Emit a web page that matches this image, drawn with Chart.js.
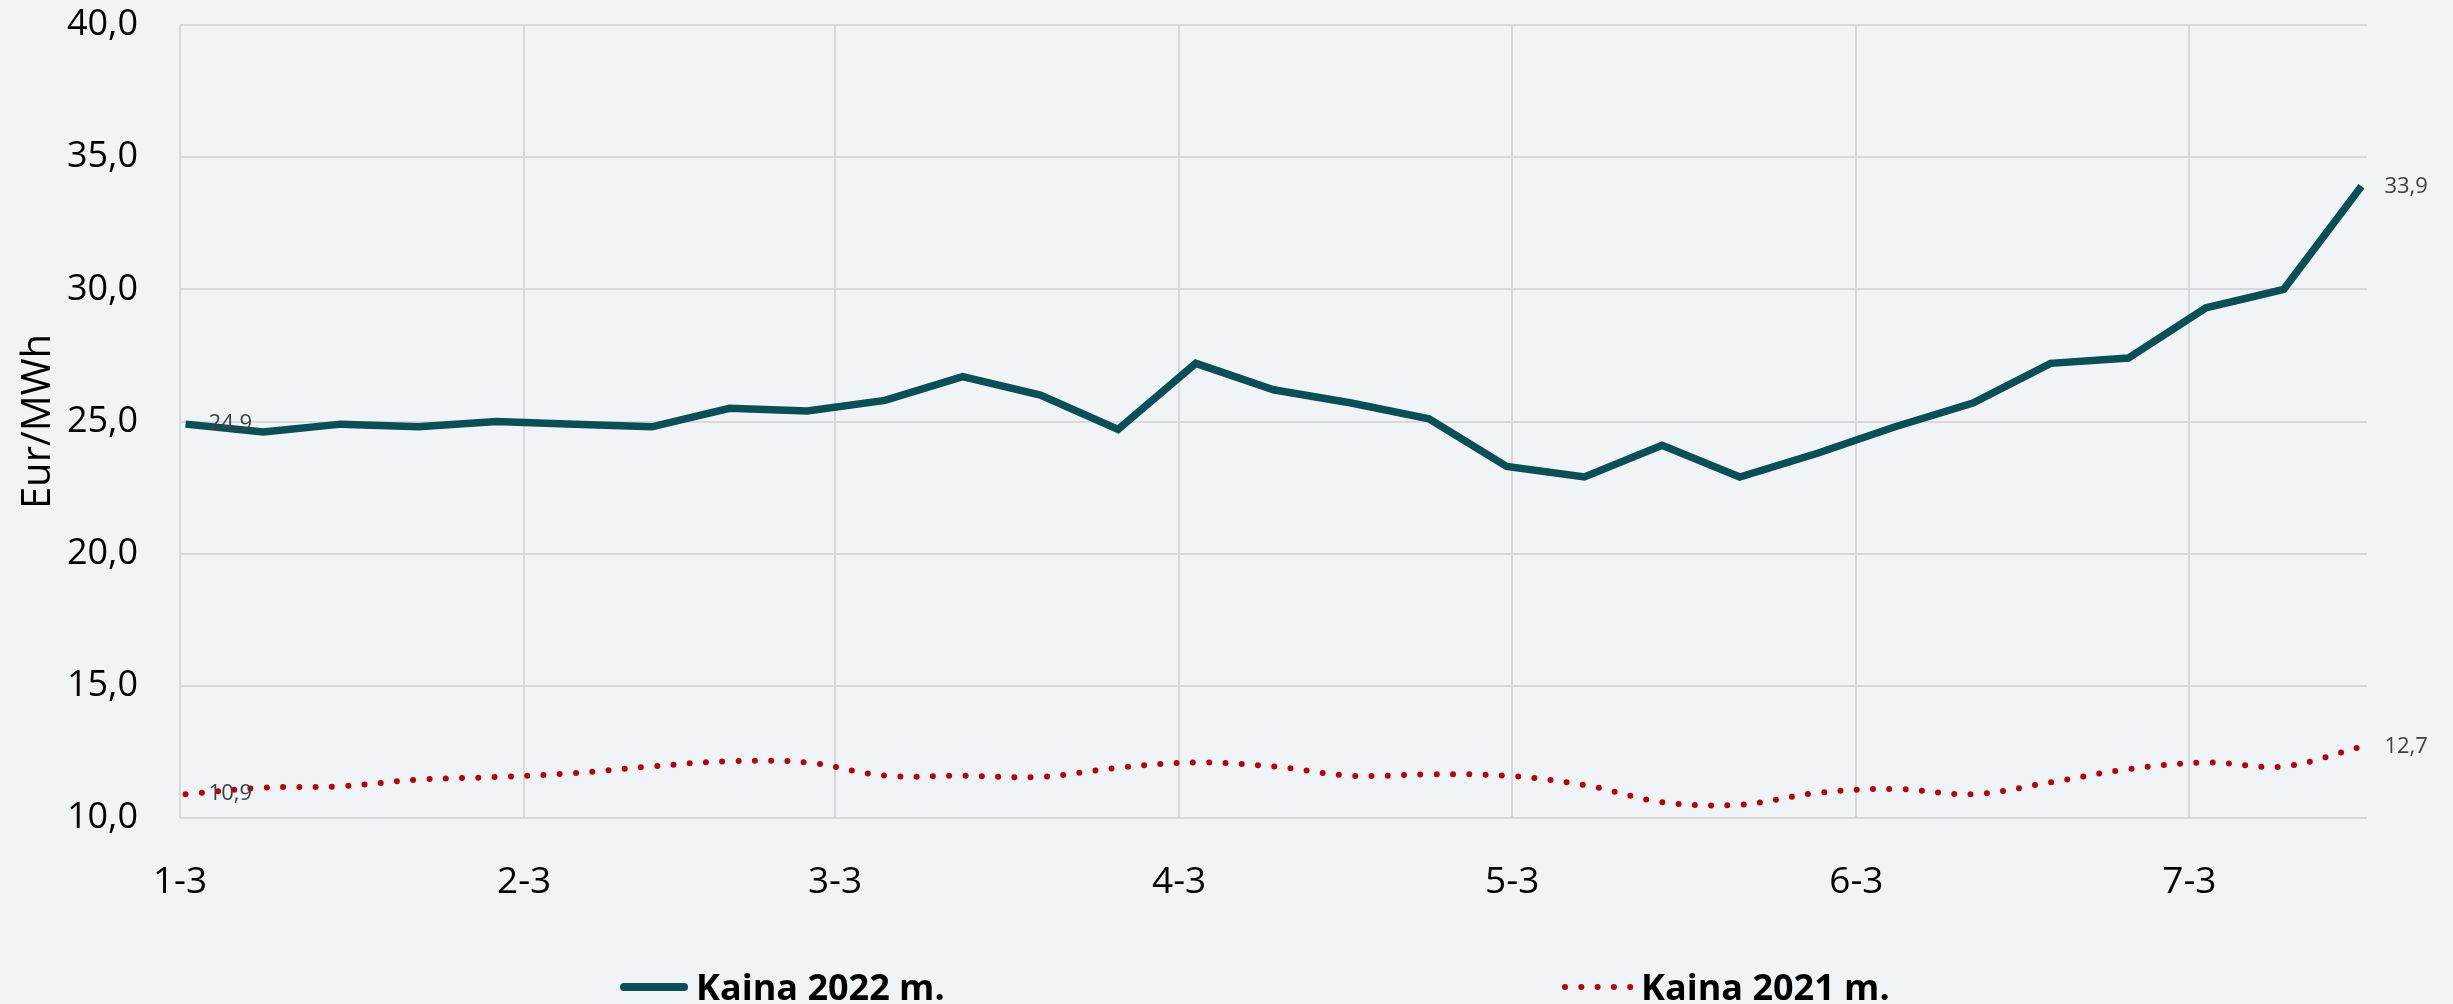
<!DOCTYPE html>
<html>
<head>
<meta charset="utf-8">
<script src="https://cdn.jsdelivr.net/npm/chart.js@4.4.0/dist/chart.umd.min.js"></script>
<style>
  html, body { margin: 0; padding: 0; background: #F0F4F7; }
  #wrap { width: 2453px; height: 1004px; }
</style>
</head>
<body>
<div id="wrap"><canvas id="priceChart" width="2453" height="1004"></canvas></div>
<script>
// Weekly prices, Eur/MWh
const weeks = [
  '2022-01-03', '2022-01-10', '2022-01-17', '2022-01-24', '2022-01-31',
  '2022-02-07', '2022-02-14', '2022-02-21', '2022-02-28',
  '2022-03-07', '2022-03-14', '2022-03-21', '2022-03-28',
  '2022-04-04', '2022-04-11', '2022-04-18', '2022-04-25',
  '2022-05-02', '2022-05-09', '2022-05-16', '2022-05-23', '2022-05-30',
  '2022-06-06', '2022-06-13', '2022-06-20', '2022-06-27',
  '2022-07-04', '2022-07-11', '2022-07-18'
];
const price2022 = [
  24.9, 24.6, 24.9, 24.8, 25.0, 24.9, 24.8, 25.5, 25.4, 25.8,
  26.7, 26.0, 24.7, 27.2, 26.2, 25.7, 25.1, 23.3, 22.9, 24.1,
  22.9, 23.8, 24.8, 25.7, 27.2, 27.4, 29.3, 30.0, 33.9
];
const price2021 = [
  10.9, 11.15, 11.2, 11.45, 11.55, 11.7, 11.95, 12.15, 12.1, 11.6,
  11.6, 11.55, 11.9, 12.1, 11.95, 11.6, 11.65, 11.6, 11.25, 10.6,
  10.5, 10.95, 11.1, 10.9, 11.35, 11.85, 12.1, 11.95, 12.7
];
const tickDates = ['2022-01-03', '2022-02-03', '2022-03-03', '2022-04-03', '2022-05-03', '2022-06-03', '2022-07-03'];
const tickLabels = ['1-3', '2-3', '3-3', '4-3', '5-3', '6-3', '7-3'];
const axisStart = '2022-01-03';
const axisEnd = '2022-07-19';

const DAY = 86400000;
const dayOf = d => (Date.parse(d) - Date.parse(axisStart)) / DAY;
// each point sits in the middle of its day
const toPoints = vals => vals.map((v, i) => ({ x: dayOf(weeks[i]) + 0.5, y: v }));
const tickDays = tickDates.map(dayOf);
const fmt = v => v.toFixed(1).replace('.', ',');

const legendX = [620, 1565];

Chart.defaults.font.family = '"Open Sans", sans-serif';
Chart.defaults.color = '#000000';

// drop the extra room Chart.js keeps for half tick labels
const noEdgePadding = scale => {
  scale.paddingTop = 0;
  scale.paddingBottom = 0;
  scale.paddingLeft = 0;
  scale.paddingRight = 0;
};

// value labels on first and last point of each line
const endLabels = {
  id: 'endLabels',
  afterDatasetsDraw(chart) {
    const ctx = chart.ctx;
    ctx.save();
    ctx.font = '22px "Open Sans"';
    ctx.fillStyle = '#404040';
    ctx.textBaseline = 'middle';
    ctx.textAlign = 'left';
    chart.data.datasets.forEach((ds, i) => {
      const pts = chart.getDatasetMeta(i).data;
      [0, pts.length - 1].forEach(j => {
        ctx.fillText(fmt(ds.data[j].y), pts[j].x + 23, pts[j].y);
      });
    });
    ctx.restore();
  }
};

// legend row along the bottom
const legendRow = {
  id: 'legendRow',
  afterDraw(chart) {
    const ctx = chart.ctx;
    const y = 987;
    chart.data.datasets.forEach((ds, i) => {
      const x = legendX[i];
      ctx.save();
      ctx.strokeStyle = ds.borderColor;
      ctx.lineCap = 'round';
      if (ds.borderDash) {
        ctx.lineWidth = 6;
        ctx.setLineDash(ds.borderDash);
        ctx.beginPath(); ctx.moveTo(x, y); ctx.lineTo(x + 68, y); ctx.stroke();
      } else {
        ctx.lineWidth = 8;
        ctx.beginPath(); ctx.moveTo(x + 4, y); ctx.lineTo(x + 64, y); ctx.stroke();
      }
      ctx.setLineDash([]);
      ctx.fillStyle = '#000000';
      ctx.font = 'bold 36px "Open Sans"';
      ctx.textBaseline = 'alphabetic';
      ctx.fillText(ds.label, x + 76, 1000);
      ctx.restore();
    });
  }
};

new Chart(document.getElementById('priceChart'), {
  type: 'line',
  data: {
    datasets: [
      {
        label: 'Kaina 2022 m.',
        data: toPoints(price2022),
        borderColor: '#084F56',
        borderWidth: 7.5,
        borderJoinStyle: 'miter',
        pointRadius: 0,
        tension: 0,
        clip: false
      },
      {
        label: 'Kaina 2021 m.',
        data: toPoints(price2021),
        borderColor: '#C00000',
        borderWidth: 6,
        borderDash: [0, 16.3],
        borderCapStyle: 'round',
        pointRadius: 0,
        tension: 0.35,
        clip: false
      }
    ]
  },
  options: {
    responsive: false,
    animation: false,
    layout: { padding: { top: 25, right: 86, left: 0, bottom: 0 } },
    plugins: {
      legend: { display: false },
      tooltip: { enabled: false }
    },
    scales: {
      x: {
        type: 'linear',
        min: 0,
        max: dayOf(axisEnd),
        afterBuildTicks: scale => {
          scale.ticks = tickDays.map(v => ({ value: v }));
        },
        afterFit: scale => {
          scale.height = 186;
          noEdgePadding(scale);
        },
        grid: { color: '#D9D9D9', lineWidth: 2, drawTicks: false },
        border: { display: false },
        ticks: {
          autoSkip: false,
          maxRotation: 0,
          padding: 42,
          font: { size: 37 },
          callback: v => tickLabels[tickDays.indexOf(v)]
        }
      },
      y: {
        min: 10,
        max: 40,
        afterFit: scale => {
          scale.width = 180;
          noEdgePadding(scale);
        },
        grid: { color: '#D9D9D9', lineWidth: 2, drawTicks: false },
        border: { display: false },
        ticks: {
          stepSize: 5,
          padding: 42,
          font: { size: 36 },
          callback: v => fmt(v)
        },
        title: {
          display: true,
          text: 'Eur/MWh',
          font: { size: 40 },
          padding: { top: 15, bottom: 0 }
        }
      }
    }
  },
  plugins: [endLabels, legendRow]
});
</script>
</body>
</html>
